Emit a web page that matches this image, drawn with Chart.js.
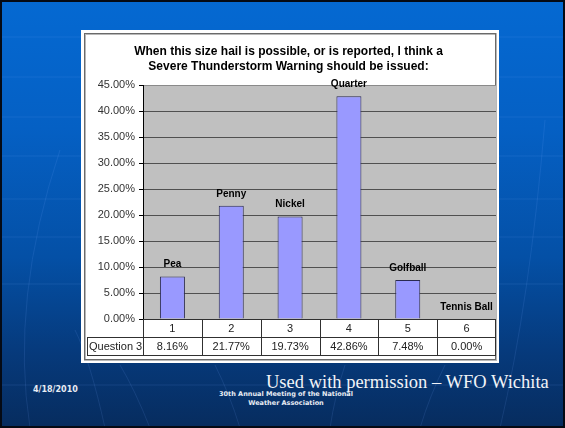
<!DOCTYPE html>
<html>
<head>
<meta charset="utf-8">
<script src="https://cdn.jsdelivr.net/npm/chart.js@4/dist/chart.umd.min.js"></script>
<style>
  html, body { margin:0; padding:0; }
  body {
    width:565px; height:428px; overflow:hidden; position:relative;
    background:linear-gradient(to bottom, #0569d2 0%, #0560c4 30%, #0450a6 60%, #063a7c 82%, #072c5e 100%);
  }
  #frame { position:absolute; left:0; top:0; width:561px; height:424px; border:2px solid #050a14; }
  #deco { position:absolute; left:0; top:0; }
  #box {
    position:absolute; left:81px; top:30px; width:418px; height:333px; background:#fff;
  }
  #box canvas { position:absolute; left:0; top:0; }
  .foot { position:absolute; color:#e8ecf4; font-family:'DejaVu Sans', Verdana, sans-serif; font-weight:bold; }
</style>
</head>
<body>
<svg id="deco" width="565" height="428">
  <g stroke="rgba(120,170,255,0.13)" stroke-width="1" fill="none">
    <line x1="0" y1="37" x2="565" y2="37"/>
    <line x1="0" y1="77" x2="565" y2="77"/>
    <line x1="0" y1="117" x2="565" y2="117"/>
    <line x1="0" y1="156" x2="565" y2="156"/>
    <line x1="0" y1="199" x2="565" y2="199"/>
    <line x1="0" y1="237" x2="565" y2="237"/>
    <line x1="0" y1="284" x2="565" y2="284"/>
    <line x1="0" y1="385" x2="565" y2="385"/>
    <path d="M30 428 Q 10 300 60 150"/>
    <path d="M105 428 Q 90 360 75 330"/>
    <path d="M150 428 Q 135 390 120 365"/>
    <path d="M240 428 Q 230 395 215 365"/>
    <path d="M330 428 Q 335 395 345 365"/>
    <path d="M420 428 Q 430 395 445 365"/>
    <path d="M500 428 Q 530 300 545 120"/>
  </g>
</svg>
<div id="frame"></div>
<div id="box"><canvas id="c" width="418" height="333"></canvas></div>
<div class="foot" style="left:33px;top:385px;font-size:8px;">4/18/2010</div>
<div class="foot" style="left:186px;top:390px;width:200px;text-align:center;font-size:6.5px;line-height:9px;">30th Annual Meeting of the National<br>Weather Association</div>
<div style="position:absolute;left:266px;top:372px;color:#f2f4f8;font-family:'Liberation Serif','Times New Roman',serif;font-size:18.5px;white-space:nowrap;">Used with permission – WFO Wichita</div>
<script>
// dados
const categories = ['1', '2', '3', '4', '5', '6'];
const sizeNames = ['Pea', 'Penny', 'Nickel', 'Quarter', 'Golfball', 'Tennis Ball'];
const question3 = [8.16, 21.77, 19.73, 42.86, 7.48, 0.00];
const seriesName = 'Question 3';
const yTicks = [0, 5, 10, 15, 20, 25, 30, 35, 40, 45];
const titleLines = ['When this size hail is possible, or is reported, I think a',
                    'Severe Thunderstorm Warning should be issued:'];

// fundo cinza da área + moldura da caixa
const boxPlugin = {
  id: 'boxPlugin',
  beforeDraw(chart) {
    const { ctx, chartArea: ca } = chart;
    ctx.save();
    ctx.strokeStyle = '#b8b8b8'; ctx.lineWidth = 2;
    ctx.strokeRect(4, 4, chart.width - 7, chart.height - 7);
    ctx.strokeStyle = '#6a6a6a'; ctx.lineWidth = 1;
    ctx.strokeRect(3.5, 3.5, chart.width - 7, chart.height - 7);
    ctx.fillStyle = '#c0c0c0';
    ctx.fillRect(ca.left, ca.top, ca.right - ca.left, ca.bottom - ca.top);
    ctx.restore();
  }
};

// rótulos acima das barras + tabela de dados
const labelTablePlugin = {
  id: 'labelTable',
  afterDatasetsDraw(chart) {
    const { ctx, chartArea: ca } = chart;
    const xs = chart.scales.x, ys = chart.scales.y;
    const step = (ca.right - ca.left) / categories.length;
    ctx.save();
    ctx.fillStyle = '#000';
    ctx.font = 'bold 10px Arial, "Liberation Sans", sans-serif';
    ctx.textAlign = 'center'; ctx.textBaseline = 'middle';
    question3.forEach((v, i) => {
      let px = xs.getPixelForValue(i);
      const py = ys.getPixelForValue(v) - 12;
      const w = ctx.measureText(sizeNames[i]).width;
      if (px + w / 2 > ca.right - 1) px = ca.right - 1 - w / 2;
      ctx.fillText(sizeNames[i], px, py);
    });

    // tabela
    const r0 = ca.bottom, r1 = r0 + 18, r2 = r1 + 18;
    const left2 = 6;
    ctx.strokeStyle = '#303030'; ctx.lineWidth = 1;
    ctx.beginPath();
    ctx.moveTo(ca.left, r0 + 0.5); ctx.lineTo(ca.right, r0 + 0.5);
    ctx.moveTo(left2, r1 + 0.5); ctx.lineTo(ca.right, r1 + 0.5);
    ctx.moveTo(left2, r2 + 0.5); ctx.lineTo(ca.right, r2 + 0.5);
    ctx.moveTo(left2 + 0.5, r1); ctx.lineTo(left2 + 0.5, r2);
    for (let i = 0; i <= categories.length; i++) {
      const x = Math.round(ca.left + i * step) + (i === categories.length ? -0.5 : 0.5);
      ctx.moveTo(x, r0); ctx.lineTo(x, r2);
    }
    ctx.stroke();

    ctx.font = '11px Arial, "Liberation Sans", sans-serif';
    ctx.fillStyle = '#222';
    categories.forEach((c, i) => {
      const cx = xs.getPixelForValue(i);
      ctx.fillText(c, cx, r0 + 9.5);
      ctx.fillText(question3[i].toFixed(2) + '%', cx, r1 + 9.5);
    });
    ctx.textAlign = 'left';
    ctx.fillText(seriesName, left2 + 2, r1 + 9.5);
    ctx.restore();
  }
};

new Chart(document.getElementById('c'), {
  type: 'bar',
  data: {
    labels: categories,
    datasets: [{
      label: seriesName,
      data: question3,
      backgroundColor: '#9999ff',
      borderColor: '#2a2a50',
      borderWidth: 1,
      categoryPercentage: 1,
      barPercentage: 0.425
    }]
  },
  options: {
    responsive: false,
    animation: false,
    devicePixelRatio: 1,
    layout: { padding: { left: 0, right: 3, top: 0, bottom: 44 } },
    plugins: {
      legend: { display: false },
      tooltip: { enabled: false },
      title: {
        display: true,
        text: titleLines,
        color: '#000',
        font: { family: 'Arial, "Liberation Sans", sans-serif', size: 12, weight: 'bold', lineHeight: 1.25 },
        padding: { top: 14, bottom: 11 }
      }
    },
    scales: {
      x: { display: false },
      y: {
        min: 0, max: 45,
        afterFit: s => { s.width = 62; },
        afterBuildTicks: s => { s.ticks = yTicks.map(v => ({ value: v })); },
        border: { display: true, color: '#000', width: 1 },
        grid: {
          color: ctx => ctx.tick && ctx.tick.value === 45 ? '#8a8a8a' : '#505050',
          lineWidth: 1,
          tickLength: 4,
          tickColor: '#000'
        },
        ticks: {
          padding: 4,
          color: '#333',
          font: { family: 'Arial, "Liberation Sans", sans-serif', size: 11 },
          callback: v => v.toFixed(2) + '%'
        }
      }
    }
  },
  plugins: [boxPlugin, labelTablePlugin]
});
</script>
</body>
</html>
